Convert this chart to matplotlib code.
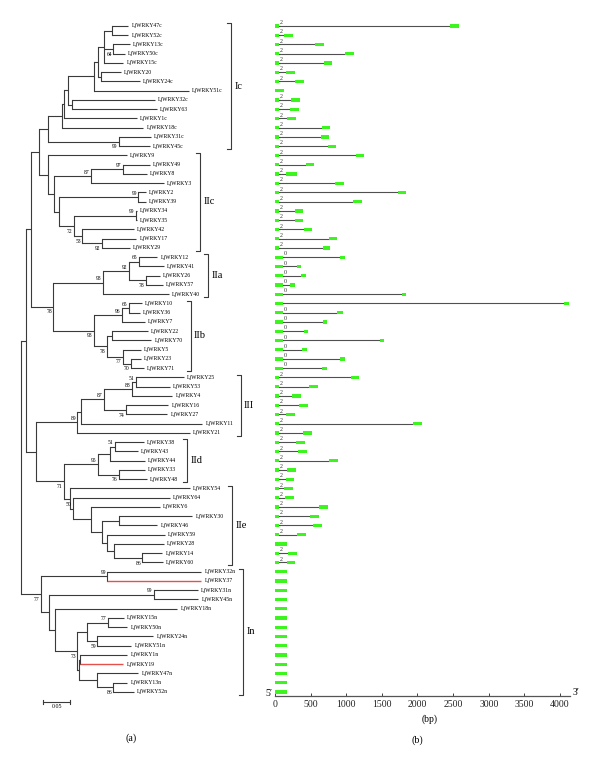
import matplotlib
matplotlib.use("Agg")
from matplotlib import pyplot as plt

plt.rcParams['font.family'] = ['Liberation Serif', 'DejaVu Serif']

# ---- tree leaves, top to bottom, with tip distance from root ----
leaf_ids = ["47c", "52c", "13c", "50c", "15c", "20", "24c", "51c", "32c", "63", "1c", "18c", "31c", "45c",
            "9", "49", "8", "3", "2", "39", "34", "35", "42", "17", "29",
            "12", "41", "26", "57", "40",
            "10", "36", "7", "22", "70", "5", "23", "71",
            "25", "53", "4", "16", "27", "11", "21",
            "38", "43", "44", "33", "48",
            "54", "64", "6", "30", "46", "59", "28", "14", "60",
            "32n", "37", "31n", "45n", "18n", "15n", "50n", "24n", "51n", "1n", "19", "47n", "13n", "52n"]
leaf_depth = [0.1993, 0.1993, 0.2024, 0.1931, 0.1900, 0.1857, 0.2209, 0.3117, 0.2487, 0.2519, 0.2148, 0.2270, 0.2413, 0.2394,
              0.1963, 0.2394, 0.2333, 0.2654, 0.2315, 0.2315, 0.2148, 0.2148, 0.2098, 0.2141, 0.2019,
              0.2530, 0.2654, 0.2580, 0.2635, 0.2746,
              0.2241, 0.2204, 0.2302, 0.2357, 0.2419, 0.2222, 0.2222, 0.2283,
              0.3024, 0.2759, 0.2807, 0.2733, 0.2715, 0.3363, 0.3135,
              0.2283, 0.2172, 0.2296, 0.2302, 0.2333,
              0.3130, 0.2759, 0.2574, 0.3178, 0.2530, 0.2667, 0.2654, 0.2622, 0.2635,
              0.3344, 0.3344, 0.3283, 0.3289, 0.2900, 0.1913, 0.1974, 0.2456, 0.2048, 0.1974, 0.1900, 0.2178, 0.1974, 0.2098]
red_leaves = ["37", "19"]

# ---- inner nodes (children listed before parents) ----
node_ids = ["A", "B", "D", "E", "F", "G", "H", "I", "J", "K", "L", "M",
            "P", "Q", "R", "S", "V", "U", "T", "W", "Y", "Z", "MZ",
            "AA", "AB", "AC", "AD", "AE", "AF", "AG", "AH", "AI", "AJ", "AK", "IIab", "R2",
            "BA", "BB", "BC", "BD", "BE", "BF",
            "CA", "CB", "CC", "CD",
            "DA", "DB", "DC", "DD", "DE", "DF", "DG", "DH", "IIde", "R3", "R1",
            "E1", "E2", "E3", "E4", "E5", "E6", "E7", "E8", "E9", "E10", "E11", "E12", "E13", "root"]
node_kids = [["47c", "52c"], ["13c", "50c"], ["A", "B", "15c"], ["20", "24c"], ["D", "E"], ["F", "51c"],
             ["32c", "63"], ["G", "H"], ["I", "1c"], ["J", "18c"], ["31c", "45c"], ["K", "L"],
             ["49", "8"], ["P", "3"], ["2", "39"], ["34", "35"], ["17", "29"], ["42", "V"], ["S", "U"],
             ["R", "T"], ["Q", "W"], ["9", "Y"], ["M", "Z"],
             ["12", "41"], ["26", "57"], ["AA", "AB"], ["AC", "40"], ["10", "36"], ["AE", "7"],
             ["22", "70"], ["23", "71"], ["5", "AH"], ["AG", "AI"], ["AF", "AJ"], ["AD", "AK"], ["MZ", "IIab"],
             ["25", "53"], ["BA", "4"], ["16", "27"], ["BB", "BC"], ["BD", "11"], ["BE", "21"],
             ["38", "43"], ["CA", "44"], ["33", "48"], ["CB", "CC"],
             ["30", "46"], ["14", "60"], ["28", "DB"], ["59", "DC"], ["DA", "DD"], ["6", "DE"],
             ["64", "DF"], ["54", "DG"], ["CD", "DH"], ["BF", "IIde"], ["R2", "R3"],
             ["32n", "37"], ["31n", "45n"], ["15n", "50n"], ["24n", "51n"], ["E3", "E4"], ["13n", "52n"],
             ["47n", "E6"], ["1n", "19"], ["E8", "E7"], ["E5", "E9"], ["18n", "E10"], ["E2", "E11"],
             ["E1", "E12"], ["R1", "E13"]]
node_depth = [0.1685, 0.1715, 0.1543, 0.1481, 0.1431, 0.1363, 0.0956, 0.0881, 0.0802, 0.0759, 0.1820, 0.0511,
              0.1900, 0.1296, 0.2178, 0.2135, 0.1500, 0.1141, 0.0987, 0.0715, 0.0617, 0.0511, 0.0344,
              0.2196, 0.2320, 0.2000, 0.1519, 0.2006, 0.1870, 0.1696, 0.2043, 0.1889, 0.1593, 0.1363, 0.0604, 0.0191,
              0.2135, 0.2056, 0.1950, 0.1548, 0.1117, 0.1048,
              0.1746, 0.1654, 0.1820, 0.1426,
              0.1820, 0.2252, 0.1728, 0.1593, 0.1511, 0.1296, 0.0963, 0.0913, 0.0807, 0.0283, 0.0098,
              0.1604, 0.2469, 0.1622, 0.1419, 0.1222, 0.1715, 0.1419, 0.1098, 0.1080, 0.1048, 0.0635, 0.0530,
              0.0376, 0.0]
node_boot = [0, 64, 0, 0, 0, 0, 0, 0, 0, 0, 99, 0,
             97, 87, 99, 99, 92, 53, 72, 0, 0, 0, 0,
             65, 78, 92, 98, 65, 96, 0, 70, 77, 78, 98, 78, 0,
             51, 88, 74, 87, 0, 89,
             51, 0, 76, 95,
             0, 86, 0, 0, 0, 0, 50, 0, 71, 0, 0,
             99, 99, 77, 59, 0, 86, 0, 0, 0, 73, 0, 0, 77, 0]
boot_side = ["", "b", "", "", "", "", "", "", "", "", "b", "",
             "a", "a", "a", "a", "b", "b", "b", "", "", "", "",
             "a", "b", "a", "a", "a", "a", "", "b", "b", "b", "b", "b", "",
             "a", "a", "b", "a", "", "a",
             "a", "", "b", "a",
             "", "b", "", "", "", "", "a", "", "b", "", "",
             "a", "a", "a", "b", "", "b", "", "", "", "b", "", "", "b", ""]

# ---- subfamily brackets ----
clade_names = ["Ic", "IIc", "IIa", "IIb", "III", "IId", "IIe", "In"]
clade_first = [0, 14, 25, 30, 38, 45, 50, 59]
clade_last = [13, 24, 29, 37, 44, 49, 58, 72]
clade_x = [0.3894, 0.3320, 0.3474, 0.3148, 0.4074, 0.3085, 0.3919, 0.4122]

# ---- gene structures (bp) ----
ex1_end = [62] * 7 + [120] + [62] * 6 + [62] * 11 + [112] * 5 + [112] * 8 + [62] * 7 + [62] * 5 \
    + [62] * 6 + [164] + [62] * 2 + [175] * 14
ex2_start = [2456, 126, 566, 987, 683, 154, 281, 0, 225, 211, 173, 655, 641, 744,
             1137, 435, 154, 842, 1726, 1099, 281, 281, 407, 763, 678,
             912, 304, 370, 211, 1778,
             4056, 875, 669, 402, 1469, 379, 912, 660,
             1062, 482, 239, 342, 154, 1932, 398,
             295, 328, 758, 164, 150,
             131, 140, 622, 491, 538, 313, 0, 187, 164] + [0] * 14
ex2_end = [2578, 248, 688, 1109, 800, 276, 403, 0, 346, 337, 295, 772, 758, 861,
           1254, 552, 309, 964, 1839, 1217, 393, 393, 524, 875, 770,
           978, 370, 435, 276, 1839,
           4122, 950, 730, 463, 1535, 444, 978, 725,
           1184, 604, 365, 468, 285, 2063, 515,
           421, 444, 880, 290, 271,
           257, 267, 744, 622, 660, 435, 0, 313, 285] + [0] * 14
phase = ["2"] * 7 + [""] + ["2"] * 6 + ["2"] * 11 + ["0"] * 5 + [""] + ["0"] * 7 + ["2"] * 7 \
    + ["2"] * 5 + ["2"] * 6 + [""] + ["2"] * 2 + [""] * 14
bp_ticks = [0, 500, 1000, 1500, 2000, 2500, 3000, 3500, 4000]

line_c = '#3a3a3a'
red_c = '#e5514a'
green = '#3cf51e'

fig = plt.figure(figsize=(6, 7.66), dpi=100)

# ---------------- (a) tree ----------------
ax = fig.add_axes([0, 0, 260 / 600, 1])
ax.set_xlim(-0.0383, 0.4432)
ax.set_ylim(80.0, -2.81)
ax.axis('off')

depth = dict(zip(leaf_ids, leaf_depth))
ypos = {k: i for i, k in enumerate(leaf_ids)}
for name, kids, d, b, side in zip(node_ids, node_kids, node_depth, node_boot, boot_side):
    depth[name] = d
    y0, y1 = ypos[kids[0]], ypos[kids[-1]]
    ypos[name] = (y0 + y1) / 2
    ax.plot([d, d], [y0, y1], color=line_c, lw=0.8, solid_capstyle='projecting')
    for k in kids:
        if k in red_leaves:
            ax.plot([d, depth[k]], [ypos[k], ypos[k]], color=red_c, lw=1.0,
                    solid_capstyle='butt', zorder=3)
        else:
            ax.plot([d, depth[k]], [ypos[k], ypos[k]], color=line_c, lw=0.8, solid_capstyle='butt')
    if b:
        ax.annotate(str(b), (d, ypos[name]), xytext=(-1, 2.8 if side == 'a' else -3.8),
                    textcoords='offset points', ha='right', va='center', fontsize=4.1)

for lid, d, i in zip(leaf_ids, leaf_depth, range(len(leaf_ids))):
    ax.annotate("LjWRKY" + lid, (d, i), xytext=(2.3, 0), textcoords='offset points',
                va='center', ha='left', fontsize=4.15)

for nm, r0, r1, x in zip(clade_names, clade_first, clade_last, clade_x):
    ax.plot([x - 0.0075, x, x, x - 0.0075], [r0 - 0.3, r0 - 0.3, r1 + 0.3, r1 + 0.3],
            color=line_c, lw=0.8)
    ax.annotate(nm, (x, (r0 + r1) / 2), xytext=(2.3, 0), textcoords='offset points',
                va='center', ha='left', fontsize=7.5)

# scale bar
ax.plot([0.0419, 0.0919], [73.05, 73.05], color=line_c, lw=0.8)
ax.plot([0.0419, 0.0419], [72.85, 73.25], color=line_c, lw=0.8)
ax.plot([0.0919, 0.0919], [72.85, 73.25], color=line_c, lw=0.8)
ax.annotate("0.05", (0.0669, 73.05), xytext=(0, -1.5), textcoords='offset points',
            ha='center', va='top', fontsize=4.2)

# ---------------- (b) gene structures ----------------
gx = fig.add_axes([260 / 600, (766 - 695.7) / 766, 340 / 600, 695.7 / 766])
gx.set_xlim(-210, 4561)
gx.set_ylim(72.4, -2.81)
for i in range(len(leaf_ids)):
    if ex2_start[i]:
        gx.plot([ex1_end[i], ex2_start[i]], [i, i], color='#505050', lw=0.8, zorder=1)
        gx.barh(i, ex2_end[i] - ex2_start[i], left=ex2_start[i], height=0.34, color=green, zorder=2)
    gx.barh(i, ex1_end[i], left=0, height=0.34, color=green, zorder=2)
    if phase[i]:
        gx.annotate(phase[i], (ex1_end[i], i), xytext=(0.3, 0.6), textcoords='offset points',
                    ha='left', va='bottom', fontsize=4.3, color='#333333')

for s in ['top', 'right', 'left']:
    gx.spines[s].set_visible(False)
gx.spines['bottom'].set_bounds(0, 4140)
gx.spines['bottom'].set_color('#555555')
gx.spines['bottom'].set_linewidth(0.9)
gx.set_yticks([])
gx.set_xticks(bp_ticks)
gx.set_xticklabels([str(t) for t in bp_ticks])
gx.tick_params(axis='x', direction='in', length=2, width=0.6, labelsize=7, pad=3, colors='#222222')
gx.set_xlabel("(bp)", fontsize=7, labelpad=4)
gx.annotate("5\u2032", (0, 0), xycoords=gx.get_xaxis_transform(), xytext=(-2, 1.5),
            textcoords='offset points', ha='right', va='center', fontsize=7)
gx.annotate("3\u2032", (4140, 0), xycoords=gx.get_xaxis_transform(), xytext=(1.5, 2),
            textcoords='offset points', ha='left', va='center', fontsize=7)

fig.text(130.7 / 600, 1 - 738.3 / 766, "(a)", ha='center', va='center', fontsize=7.2)
fig.text(417.7 / 600, 1 - 740 / 766, "(b)", ha='center', va='center', fontsize=7.2)

fig.savefig("out.png", dpi=100)
